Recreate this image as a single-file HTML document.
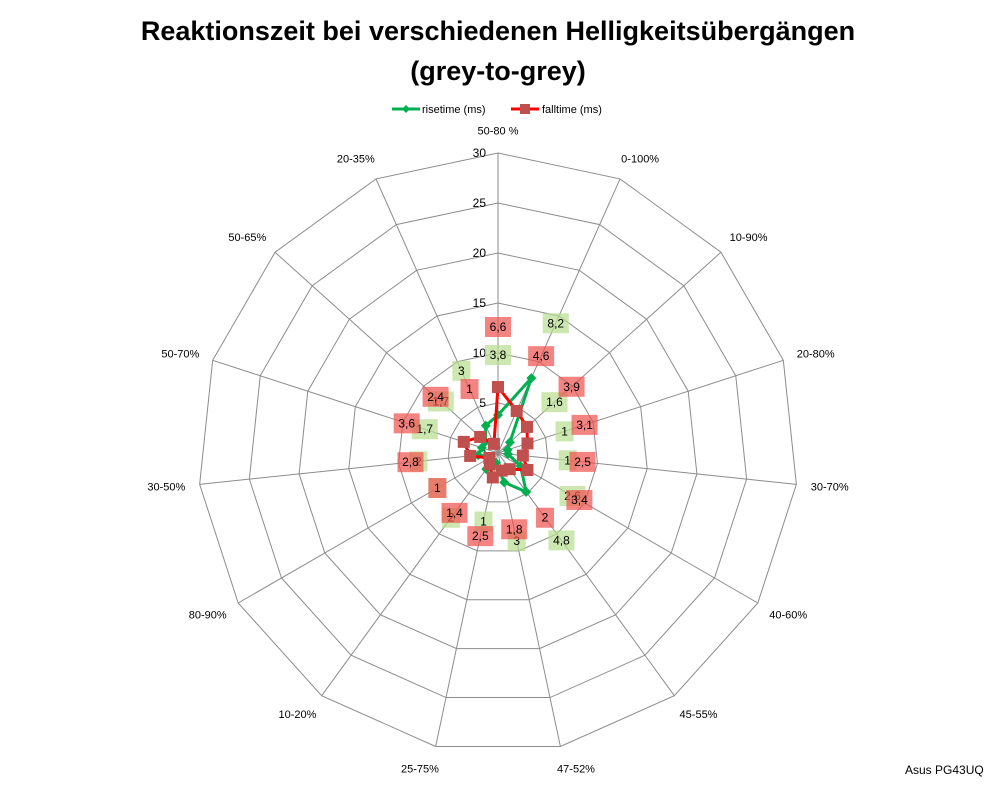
<!DOCTYPE html>
<html><head><meta charset="utf-8"><style>
body{margin:0;background:#fff;}
svg{display:block;font-family:"Liberation Sans",Calibri,sans-serif;}
</style></head><body>
<svg id="chart" width="998" height="786" viewBox="0 0 998 786">
<text x="498" y="40" text-anchor="middle" font-size="27" font-weight="bold">Reaktionszeit bei verschiedenen Helligkeitsübergängen</text>
<text x="498" y="80" text-anchor="middle" font-size="27" font-weight="bold">(grey-to-grey)</text>
<g font-size="11">
<g>
<line x1="392" y1="109" x2="420" y2="109" stroke="#00b050" stroke-width="3"/>
<path d="M406 105 L410 109 L406 113 L402 109Z" fill="#00b050"/>
<text x="422" y="113">risetime (ms)</text></g>
<g>
<line x1="511" y1="109" x2="539" y2="109" stroke="#ff0000" stroke-width="3"/>
<rect x="520" y="104" width="10" height="10" fill="#c0504d"/>
<text x="542" y="113">falltime (ms)</text></g>
</g>
<text x="905" y="774" font-size="12">Asus PG43UQ</text>
<g id="grid"></g><g id="series"></g><g id="labels"></g>
</svg>
<script>
const categories=["50-80 %","0-100%","10-90%","20-80%","30-70%","40-60%","45-55%","47-52%","25-75%","10-20%","80-90%","30-50%","50-70%","50-65%","20-35%"];
const risetime=[3.8,8.2,1.6,1,1,2.6,4.8,3,1,2,1,2,1.7,1.7,3];
const falltime=[6.6,4.6,3.9,3.1,2.5,3.4,2,1.8,2.5,1.4,1,2.8,3.6,2.4,1];
const ticks=[0,5,10,15,20,25,30];
const maxV=30;
const cx=498,cy=453,R=300,N=categories.length;
const NS="http://www.w3.org/2000/svg";
function ang(i){return -Math.PI/2+i*2*Math.PI/N;}
function pt(i,v){const r=v/maxV*R;return [cx+r*Math.cos(ang(i)),cy+r*Math.sin(ang(i))];}
function mk(t,a,p){const e=document.createElementNS(NS,t);for(const k in a)e.setAttribute(k,a[k]);p.appendChild(e);return e;}
const grid=document.getElementById('grid'),ser=document.getElementById('series'),lab=document.getElementById('labels');
ticks.forEach(t=>{if(t===0)return;
 const ring=mk('polygon',{points:categories.map((c,i)=>pt(i,t).join(',')).join(' '),fill:'none',stroke:'#8c8c8c','stroke-width':1},grid);
 
 
});
categories.forEach((c,i)=>{
 const p=pt(i,maxV);
 const l=mk('line',{x1:cx,y1:cy,x2:p[0],y2:p[1],stroke:'#8c8c8c','stroke-width':1},grid);
 
 
 const q=pt(i,maxV*1.075);const cs=Math.cos(ang(i));
 const anc=Math.abs(cs)<0.15?'middle':(cs>0?'start':'end');
 const tx=mk('text',{x:q[0]+(anc==='start'?-8:anc==='end'?8:0),y:q[1]+4,'text-anchor':anc,'font-size':11},grid);
 tx.textContent=c;
 
 
});
ticks.forEach(t=>{const y=cy-t/maxV*R;
 const tx=mk('text',{x:486,y:y+4,'text-anchor':'end','font-size':12},grid);
 tx.textContent=t;
 
 
});
function drawSeries(vals,color,mcol,shape,name,boxCol){
 const pts=vals.map((v,i)=>pt(i,v));
 const pl=mk('polygon',{points:pts.map(p=>p.join(',')).join(' '),fill:'none',stroke:color,'stroke-width':3,'stroke-linejoin':'round'},ser);
 
 
 pts.forEach((p,i)=>{let m;
  if(shape==='d')m=mk('path',{d:`M${p[0]} ${p[1]-5}L${p[0]+5} ${p[1]}L${p[0]} ${p[1]+5}L${p[0]-5} ${p[1]}Z`,fill:mcol},ser);
  else m=mk('rect',{x:p[0]-6,y:p[1]-6,width:12,height:12,fill:mcol},ser);
  
  
 });
 vals.forEach((v,i)=>{const q=pt(i,v+6);const s=String(v).replace('.',',');const w=s.length>1?26:18;
  const g=mk('g',{},lab);
  
  
  mk('rect',{x:q[0]-w/2,y:q[1]-10,width:w,height:20,fill:boxCol,'fill-opacity':0.7},g);
  const t=mk('text',{x:q[0],y:q[1]+4,'text-anchor':'middle','font-size':12},g);t.textContent=s;
 });
}
drawSeries(risetime,'#00b050','#00b050','d','risetime','#b7dd8f');
drawSeries(falltime,'#ff0000','#c0504d','s','falltime','#f0504d');
</script>
</body></html>
